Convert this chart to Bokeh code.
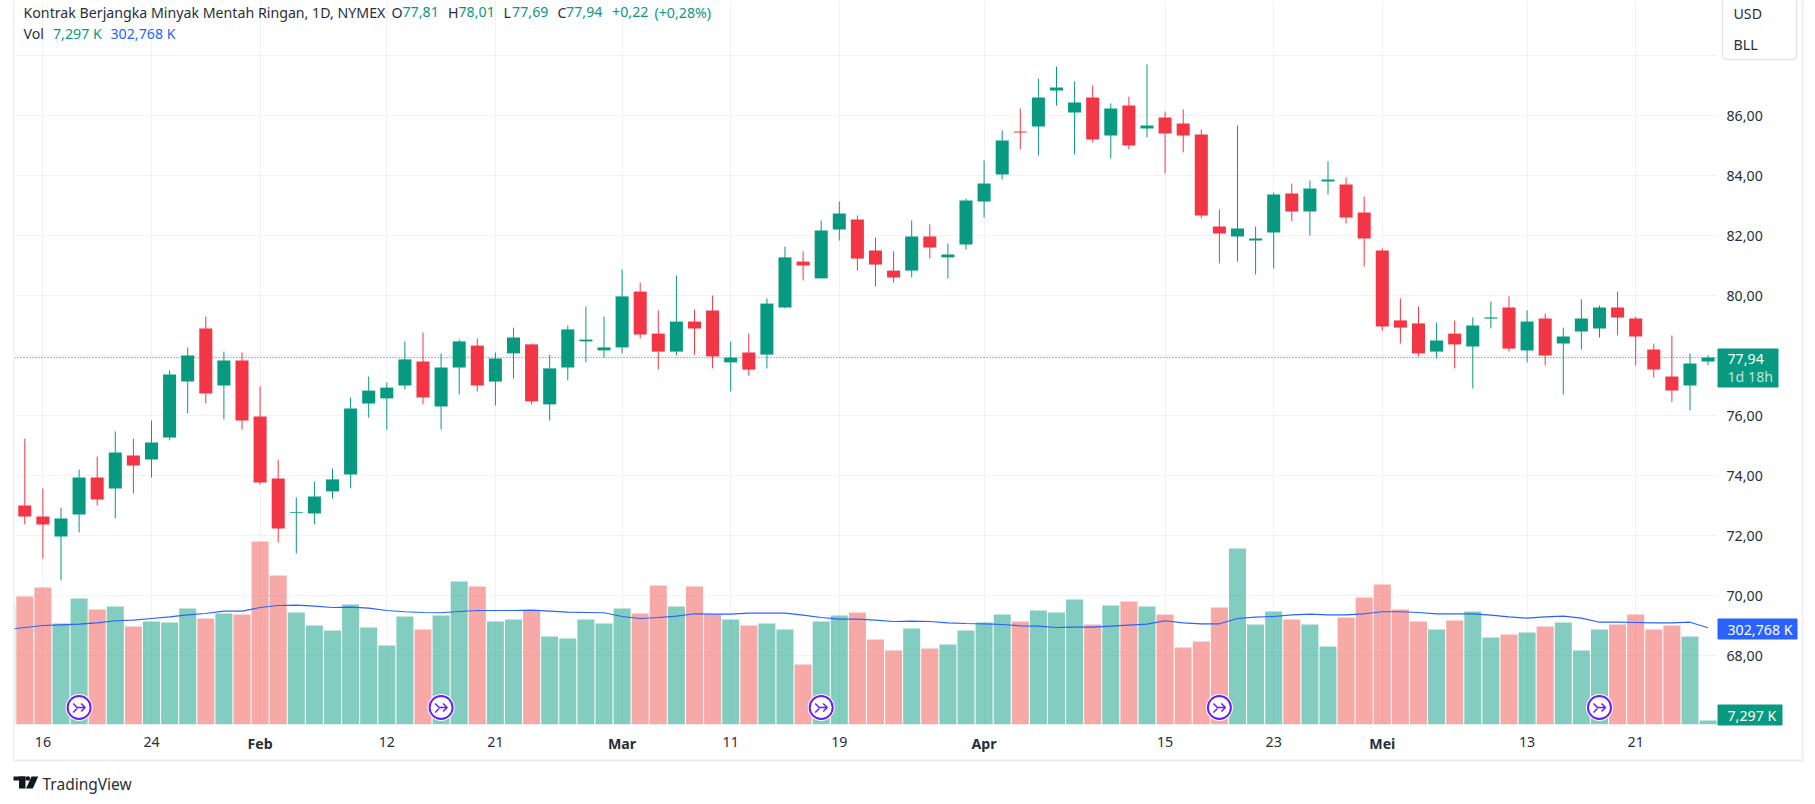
from bokeh.plotting import figure
from bokeh.embed import file_html
from bokeh.resources import INLINE
from bokeh.models import Range1d, FixedTicker, Span
from bokeh.core.properties import value

# ---- data ----
opens = [73.01,72.64,71.98,72.71,73.94,73.58,74.68,74.54,75.28,77.14,78.91,77.01,77.84,75.98,73.91,72.77,72.74,73.48,74.04,76.41,
         76.58,77.01,77.81,76.31,77.61,78.34,77.14,78.08,78.38,76.38,77.61,78.48,78.18,78.28,80.14,78.74,78.14,79.14,79.51,77.78,
         78.11,78.04,79.61,81.14,80.58,82.21,82.54,81.51,80.84,80.84,81.98,81.28,81.71,83.14,84.04,85.48,85.64,86.84,86.11,86.61,
         85.34,86.34,85.58,85.94,85.74,85.38,82.31,81.98,81.84,82.11,83.41,82.81,83.81,83.71,82.78,81.51,79.18,79.08,78.14,78.74,
         78.31,79.24,79.61,78.18,79.24,78.41,78.81,78.91,79.61,79.24,78.21,77.31,77.01,77.81]
highs = [75.24,73.58,72.94,74.21,74.64,75.48,75.24,75.84,77.51,78.28,79.31,78.14,78.11,76.98,74.54,73.28,73.81,74.24,76.61,77.31,
         77.11,78.48,78.78,78.08,78.54,78.58,78.11,78.94,78.41,78.04,79.01,79.64,79.31,80.88,80.44,79.51,80.68,79.54,80.01,78.48,
         78.74,79.91,81.64,81.48,82.51,83.14,82.68,81.94,81.48,82.51,82.38,81.74,83.24,84.51,85.51,86.24,87.24,87.64,87.14,87.01,
         86.41,86.64,87.71,86.14,86.21,85.54,82.88,85.68,82.31,83.44,83.74,83.84,84.48,83.94,83.31,81.58,79.91,79.64,79.11,79.18,
         79.28,79.81,79.98,79.51,79.41,78.94,79.88,79.68,80.14,79.31,78.41,78.68,78.08,78.01]
lows = [72.38,71.24,70.51,72.11,73.01,72.58,73.41,73.94,75.18,76.08,76.41,75.88,75.54,73.71,71.78,71.41,72.38,73.24,73.58,75.94,
        75.54,76.88,76.38,75.54,76.71,76.81,76.34,77.24,76.38,75.84,77.18,77.78,77.94,78.08,78.58,77.54,78.01,78.04,77.58,76.81,
        77.34,77.58,79.58,80.51,80.58,81.84,80.84,80.31,80.44,80.61,81.24,80.58,81.54,82.61,83.88,84.88,84.68,86.34,84.71,85.11,
        84.58,84.88,85.28,84.08,84.78,82.58,81.08,81.14,80.71,80.91,82.48,82.01,83.38,82.41,80.98,78.84,78.41,77.98,77.91,77.58,
        76.91,78.91,78.14,77.78,77.68,76.71,78.21,78.61,78.68,77.68,77.28,76.46,76.18,77.69]
closes = [72.64,72.38,72.58,73.94,73.21,74.78,74.34,75.11,77.38,78.01,76.74,77.84,75.84,73.78,72.24,72.79,73.31,73.88,76.24,76.84,
          76.94,77.88,76.61,77.61,78.48,77.01,77.91,78.61,76.48,77.58,78.88,78.54,78.28,79.98,78.71,78.14,79.14,78.91,77.98,77.94,
          77.54,79.74,81.28,81.01,82.18,82.74,81.24,81.04,80.61,81.98,81.61,81.38,83.18,83.74,85.18,85.44,86.61,86.94,86.44,85.21,
          86.24,85.01,85.68,85.41,85.34,82.68,82.08,82.24,81.91,83.38,82.81,83.58,83.88,82.61,81.91,78.98,78.94,78.08,78.51,78.38,
          79.01,79.28,78.24,79.14,78.01,78.64,79.24,79.61,79.28,78.64,77.54,76.84,77.74,77.94]

# volume in thousands; the first value belongs to the bar cut off by the left edge
volumes = [374.0,402.7,431.4,316.6,396.3,361.2,370.8,307.0,323.0,319.8,364.4,332.5,348.5,345.3,578.0,469.6,351.6,310.2,294.3,377.2,
           303.8,246.4,338.9,297.4,342.1,450.5,434.5,323.0,329.3,358.0,275.1,268.8,329.3,316.6,364.4,348.5,437.7,370.8,434.5,345.3,
           329.3,310.2,316.6,297.4,185.9,323.0,342.1,351.6,265.6,230.5,300.6,236.9,249.6,294.3,319.8,345.3,323.0,358.0,351.6,393.1,
           313.4,374.0,386.7,370.8,345.3,240.1,259.2,367.6,555.7,313.4,354.8,329.3,313.4,243.3,335.7,399.5,440.9,361.2,323.0,297.4,
           326.1,354.8,271.9,281.5,287.9,307.0,319.8,230.5,297.4,313.4,345.3,297.4,310.2,275.1,7.297]
vol_ma = [297.4,303.8,310.2,312.3,314.5,318.7,325.1,327.2,332.5,337.8,344.2,348.5,355.9,355.9,367.6,374.0,375.0,371.8,367.6,368.7,
          365.5,358.0,353.8,351.6,350.6,354.8,358.0,358.0,358.0,359.1,355.9,352.7,351.6,350.6,338.9,332.5,335.7,340.0,347.4,346.3,
          346.3,349.5,349.5,349.5,343.2,335.7,330.4,330.4,327.2,323.0,324.0,323.0,318.7,316.6,315.5,313.4,309.1,308.1,303.8,304.9,
          304.9,308.1,311.3,314.5,325.1,318.7,315.5,315.5,332.5,336.8,338.9,344.2,346.3,344.2,344.2,347.4,353.8,353.8,351.6,347.4,
          347.4,347.4,343.2,337.8,333.6,337.8,340.0,333.6,320.8,320.8,319.8,318.7,318.7,320.8,302.768]

time_ticks = [1,7,13,20,26,33,39,45,53,63,69,75,83,89]
time_labels = ["16","24","Feb","12","21","Mar","11","19","Apr","15","23","Mei","13","21"]
month_labels = {"Feb","Mar","Apr","Mei"}
price_grid = [68,70,72,74,76,78,80,82,84,86,88]
price_ticks = [68,70,72,74,76,80,82,84,86]
event_idx = [3,23,44,66,87]
last_price = 77.94

# ---- style ----
W, H = 1807, 796
GREEN, RED, BLUE = "#089981", "#f23645", "#2962ff"
VGREEN, VRED = "#089981", "#ef5350"
GRID = "#f1f2f5"
TXT = "#2a2e39"
FONT = "Noto Sans"
FS = "14.2px"
PX_PER_BAR = 18.1
VOL_PX = 0.3137
VOL_FLOOR = -5.4
FRAME_H = 724
FRAME_L = 14
X0 = -0.569
ABS = {"position": "absolute", "left": "0px", "top": "0px"}

p = figure(width=W, height=H, output_backend="svg", toolbar_location=None, tools="",
           x_range=Range1d(X0, 93.52), y_range=Range1d(65.71, 89.843),
           min_border_left=FRAME_L, min_border_right=90, min_border_top=0, min_border_bottom=H - FRAME_H,
           outline_line_color=None, background_fill_color="white", border_fill_color="white",
           x_axis_location="below", y_axis_location="right", styles=ABS)
p.extra_y_ranges = {"vol": Range1d(VOL_FLOOR, VOL_FLOOR + FRAME_H / VOL_PX)}

# axes
xa = p.xaxis[0]
xa.ticker = FixedTicker(ticks=time_ticks)
xa.major_label_overrides = {t: ("" if l in month_labels else l) for t, l in zip(time_ticks, time_labels)}
ya = p.yaxis[0]
ya.ticker = FixedTicker(ticks=price_ticks)
ya.major_label_overrides = {t: f"{t},00" for t in price_ticks}
for ax in (xa, ya):
    ax.axis_line_color = None
    ax.major_tick_line_color = None
    ax.minor_tick_line_color = None
    ax.major_tick_out = 0
    ax.major_tick_in = 0
    ax.major_label_text_color = TXT
    ax.major_label_text_font = FONT
    ax.major_label_text_font_size = FS
xa.major_label_standoff = 12
ya.major_label_standoff = 9

p.xgrid.ticker = FixedTicker(ticks=time_ticks)
p.ygrid.ticker = FixedTicker(ticks=price_grid)
p.xgrid.grid_line_color = GRID
p.ygrid.grid_line_color = GRID
p.xgrid.grid_line_width = 1
p.ygrid.grid_line_width = 1

# volume
n = len(opens)
idx = list(range(n))
vol_x = list(range(-1, n))
vol_dir = [True] + [c >= o for o, c in zip(opens, closes)]
p.vbar(x=vol_x, top=volumes, bottom=VOL_FLOOR, width=0.94, y_range_name="vol", line_color=None,
       fill_color=[VGREEN if d else VRED for d in vol_dir], fill_alpha=0.5)
p.line(vol_x, vol_ma, y_range_name="vol", line_color=BLUE, line_width=1.1)

# last price line
p.add_layout(Span(location=last_price, dimension="width", line_color=GREEN, line_width=1, line_dash="1 2"))

# candles
cols = [GREEN if c >= o else RED for o, c in zip(opens, closes)]
p.segment(x0=idx, x1=idx, y0=lows, y1=highs, line_color=cols, line_width=1)
p.vbar(x=idx, top=[max(a, b) for a, b in zip(opens, closes)], bottom=[min(a, b) for a, b in zip(opens, closes)],
       width=0.72, fill_color=cols, line_color=None)

# event markers
EVT_Y = 48.8
p.scatter(event_idx, [EVT_Y] * len(event_idx), size=27, y_range_name="vol", fill_color="white", line_color=None)
p.scatter(event_idx, [EVT_Y] * len(event_idx), size=23, y_range_name="vol", fill_color="white",
          line_color="#6a1bff", line_width=2)
icon = [[(-6, 4), (-2, 0), (6, 0)], [(-6, -5), (-2, -1)], [(2, 4), (6, 0), (2, -4)]]
xs, ys = [], []
for e in event_idx:
    for stroke in icon:
        xs.append([e + a / PX_PER_BAR for a, b in stroke])
        ys.append([EVT_Y + b / VOL_PX for a, b in stroke])
p.multi_line(xs, ys, y_range_name="vol", line_color="#6a1bff", line_width=1.5)

# ---- overlay figure for page furniture: same size, transparent, in pixels from the top-left ----
o = figure(width=W, height=H, output_backend="svg", toolbar_location=None, tools="",
           x_range=Range1d(0, W), y_range=Range1d(H, 0), x_axis_type=None, y_axis_type=None,
           min_border=0, outline_line_color=None, background_fill_alpha=0, border_fill_alpha=0,
           styles=ABS)
o.grid.visible = False

def box(l, t, r, b, fill, line=None, radius=0):
    o.quad(left=[l], right=[r], top=[t], bottom=[b], fill_color=fill, line_color=line,
           line_width=1.5 if line else 0, border_radius=radius)

def text(x, y, s, color=TXT, size=FS, weight="normal", align="left"):
    o.text(x=[x], y=[y], text=[s], text_color=color, text_font=value(FONT), text_font_size=value(size),
           text_font_style=weight, text_align=align, text_baseline="middle")

# container borders
BORDER = "#eceef5"
box(12.7, 0, 14, 761, BORDER)
box(1801, 0, 1803, 761, BORDER)
box(12.7, 759, 1803, 761, BORDER)

# month labels, bold, on the time axis
for t, l in zip(time_ticks, time_labels):
    if l in month_labels:
        text(FRAME_L + (t - X0) * PX_PER_BAR, 742.5, l, weight="bold", align="center")

# header legend
text(23, 11.5, "Kontrak Berjangka Minyak Mentah Ringan, 1D, NYMEX")
for x, s, c in [(391, "O", TXT), (402, "77,81", GREEN), (447.5, "H", TXT), (458, "78,01", GREEN),
                (503, "L", TXT), (511.6, "77,69", GREEN), (557, "C", TXT), (565.6, "77,94", GREEN),
                (611.6, "+0,22", GREEN), (654, "(+0,28%)", GREEN)]:
    text(x, 11.5, s, c)
text(23, 32.5, "Vol")
text(52.5, 32.5, "7,297 K", GREEN)
text(110, 32.5, "302,768 K", BLUE)

# currency / unit box
box(1722, -6, 1796, 59, "white", line="#e0e3eb", radius=4)
text(1733, 12.5, "USD")
text(1733, 43.5, "BLL")

# price-scale tags
box(1717, 348, 1778, 387, GREEN, radius=1)
text(1727, 358, "77,94", "white")
text(1727, 376, "1d 18h", "#bfe5de")
box(1717, 618, 1797, 639, BLUE, radius=1)
text(1727, 628.5, "302,768 K", "white")
box(1717, 704, 1782, 725, GREEN, radius=1)
text(1727, 714.5, "7,297 K", "white")

# logo
LOGO = "#131722"
box(13, 776, 25, 780, LOGO)
box(18.5, 776, 25, 788, LOGO)
o.scatter([27.4], [778], size=4.6, fill_color=LOGO, line_color=None)
o.patch([31, 37.7, 32.3, 25.5], [776, 776, 788, 788], fill_color=LOGO, line_color=None)
text(42, 783, "TradingView", "#2a2e39", size="15.5px")

open("out.html", "w").write(file_html([p, o], INLINE))
